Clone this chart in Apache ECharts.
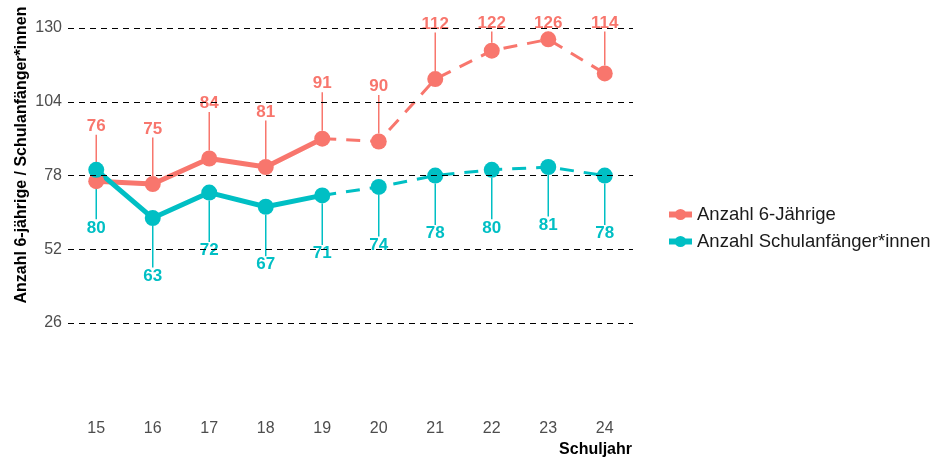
<!DOCTYPE html>
<html>
<head>
<meta charset="utf-8">
<script src="https://cdn.jsdelivr.net/npm/echarts@6/dist/echarts.min.js"></script>
<style>
  html, body { margin: 0; padding: 0; background: #fff; }
  #chart { width: 932px; height: 460px; }
</style>
</head>
<body>
<div id="chart"></div>
<script>
// Schuljahre (x-Achse)
const years = ['15', '16', '17', '18', '19', '20', '21', '22', '23', '24'];
// Werte
const kids6 = [76, 75, 84, 81, 91, 90, 112, 122, 126, 114];
const starters = [80, 63, 72, 67, 71, 74, 78, 80, 81, 78];
// letzter Ist-Wert (danach Prognose, gestrichelt)
const lastActual = 4;
const yTicks = [26, 52, 78, 104, 130];

const RED = '#F8766D';
const CYAN = '#00BFC4';
const FONT = 'Liberation Sans, Arial, sans-serif';

const chart = echarts.init(document.getElementById('chart'));

function actual(arr) {
  return arr.map((v, i) => (i <= lastActual ? v : '-'));
}
function forecast(arr) {
  return arr.map((v, i) => {
    if (i < lastActual) return '-';
    if (i === lastActual) return { value: v, symbol: 'none', label: { show: false } };
    return v;
  });
}

function labelFor(color) {
  return {
    show: true,
    position: 'inside',
    color: color,
    fontFamily: FONT,
    fontWeight: 'bold',
    fontSize: 17
  };
}

// Beschriftungen nach oben (rot) bzw. unten (türkis) verschieben
function layoutUp(p) {
  const cy = p.rect.y + p.rect.height / 2;
  return { y: Math.max(cy - 55, 23), align: 'center', verticalAlign: 'middle' };
}
function layoutDown(p) {
  const cy = p.rect.y + p.rect.height / 2;
  return { y: cy + 58, align: 'center', verticalAlign: 'middle' };
}

function makeSeries(name, arr, color, layout) {
  const common = {
    name: name,
    type: 'line',
    symbol: 'circle',
    symbolSize: 16,
    showSymbol: true,
    itemStyle: { color: color },
    label: labelFor(color),
    labelLine: { show: true, lineStyle: { color: color, width: 1.5 } },
    labelLayout: layout,
    connectNulls: false,
    animation: false,
    z: 3
  };
  return [
    Object.assign({}, common, {
      data: actual(arr),
      lineStyle: { color: color, width: 5 }
    }),
    Object.assign({}, common, {
      data: forecast(arr),
      lineStyle: { color: color, width: 3, type: [14, 10] }
    })
  ];
}

const option = {
  backgroundColor: '#fff',
  animation: false,
  grid: { left: 68, right: 299, top: 10, bottom: 49 },
  legend: {
    data: ['Anzahl 6-Jährige', 'Anzahl Schulanfänger*innen'],
    orient: 'vertical',
    left: 661,
    top: 200,
    itemWidth: 23,
    itemHeight: 14,
    itemGap: 8,
    lineStyle: { width: 6 },
    textStyle: { fontFamily: FONT, fontSize: 18.5, color: '#1a1a1a' }
  },
  graphic: [{
    type: 'text',
    x: 22,
    y: 155,
    rotation: Math.PI / 2,
    style: {
      text: 'Anzahl 6-jährige / Schulanfänger*innen',
      fontFamily: FONT,
      fontWeight: 'bold',
      fontSize: 16,
      fill: '#000',
      align: 'center',
      verticalAlign: 'middle'
    }
  }, {
    type: 'text',
    x: 632,
    y: 450,
    style: {
      text: 'Schuljahr',
      fontFamily: FONT,
      fontWeight: 'bold',
      fontSize: 16,
      fill: '#000',
      align: 'right',
      verticalAlign: 'middle'
    }
  }],
  xAxis: {
    type: 'category',
    data: years,
    boundaryGap: true,
    axisLine: { show: false },
    axisTick: { show: false },
    axisLabel: { fontFamily: FONT, fontSize: 16, color: '#4D4D4D', margin: 10 },
    splitLine: { show: false }
  },
  yAxis: {
    type: 'value',
    min: -5,
    max: 136.35,
    axisLine: { show: false },
    axisTick: { show: false },
    splitLine: { show: false },
    axisLabel: {
      customValues: yTicks,
      fontFamily: FONT, fontSize: 16, color: '#4D4D4D', margin: 6
    }
  },
  series: [
    {
      type: 'line',
      data: [],
      silent: true,
      z: 1,
      markLine: {
        silent: true,
        symbol: 'none',
        label: { show: false },
        lineStyle: { color: '#000', width: 1.2, type: [6, 5] },
        data: yTicks.map(t => ({ yAxis: t }))
      }
    },
    ...makeSeries('Anzahl 6-Jährige', kids6, RED, layoutUp),
    ...makeSeries('Anzahl Schulanfänger*innen', starters, CYAN, layoutDown)
  ]
};

chart.setOption(option);
</script>
</body>
</html>
